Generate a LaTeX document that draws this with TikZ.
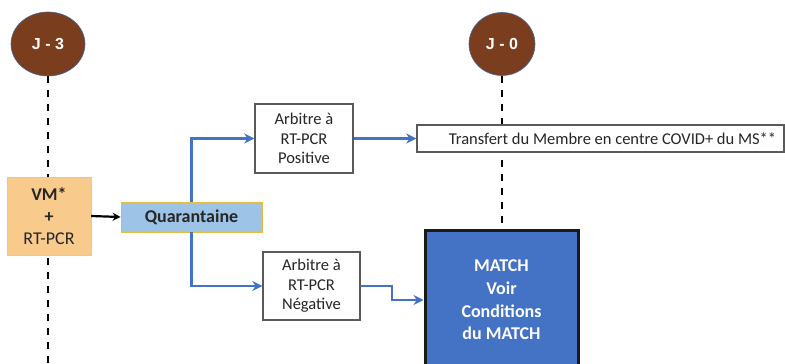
\documentclass[tikz,border=0pt]{standalone}
\usepackage{fontspec}
\setmainfont{Carlito}
\newfontfamily\dayfont{Liberation Sans}
\usetikzlibrary{calc}
\usetikzlibrary{arrows.meta}
\usetikzlibrary{shapes.geometric}
\definecolor{daybrown}{RGB}{122,62,30}
\definecolor{dayedge}{RGB}{70,100,150}
\definecolor{vmfill}{RGB}{248,203,140}
\definecolor{quarfill}{RGB}{157,195,230}
\definecolor{quaredge}{RGB}{230,190,60}
\definecolor{matchblue}{RGB}{68,114,196}
\definecolor{boxgray}{RGB}{90,90,90}
\definecolor{txtgray}{RGB}{38,38,38}
\tikzstyle{daycircle}=[ellipse,fill=daybrown,draw=dayedge,line width=0.6pt,text=white,font=\dayfont\bfseries\fontsize{16}{19}\selectfont,inner sep=0pt]
\tikzstyle{timeline}=[line width=2pt,dash pattern=on 7pt off 7pt]
\tikzstyle{arbbox}=[draw=boxgray,fill=white,line width=1.4pt,align=center,text=txtgray,font=\fontsize{16.5}{19.5}\selectfont,inner sep=0pt]
\tikzstyle{bluearrow}=[draw=matchblue,line width=2.8pt,-{Stealth[length=10pt,width=10pt]}]
\begin{document}
\begin{tikzpicture}[x=1pt,y=-1pt]
\useasboundingbox (0,0) rectangle (785,364);
\clip (0,0) rectangle (785,364);
% days
\node[daycircle,minimum width=74pt,minimum height=64pt] (j3) at (48,44) {J - 3};
\node[daycircle,minimum width=66pt,minimum height=63pt] (j0) at (502,44) {J - 0};
\coordinate (j3end) at (48,364);
\coordinate (j0end) at (502,230);
\draw[timeline] (j3.south) -- (j3end);
\draw[timeline] (j0.south) -- (j0end);
% boxes
\node[fill=vmfill,draw=vmfill!90!orange,align=center,text=txtgray,minimum width=84pt,minimum height=78pt,inner sep=0pt,font=\fontsize{18}{22}\selectfont] (vm) at (49,216) {\textbf{VM*}\\\textbf{+}\\RT-PCR};
\node[fill=quarfill,draw=quaredge,line width=0.8pt,text=txtgray,minimum width=141pt,minimum height=30pt,inner sep=0pt,font=\bfseries\fontsize{18}{22}\selectfont] (quar) at (191.5,217) {Quarantaine};
\node[arbbox,minimum width=98pt,minimum height=69pt] (pos) at (304,138.5) {Arbitre à\\RT-PCR\\Positive};
\node[arbbox,minimum width=97pt,minimum height=68pt] (neg) at (311.5,286) {Arbitre à\\RT-PCR\\Négative};
\node[arbbox,minimum width=367pt,minimum height=27pt] (trans) at (600.5,138.5) {\hspace*{24pt}Transfert du Membre en centre COVID+ du MS**};
\node[fill=matchblue,draw=black!90,line width=3pt,align=center,text=white,minimum width=153pt,minimum height=140pt,inner sep=0pt,font=\bfseries\fontsize{18}{22.7}\selectfont] (match) at (501.5,300) {MATCH\\Voir\\Conditions\\du MATCH};
% arrows
\draw[line width=2.2pt,-{Stealth[length=8pt,width=8pt]}] (vm.east) -- (quar.west);
\draw[bluearrow] (quar.north) |- (pos.west);
\draw[bluearrow] (quar.south) |- (neg.west);
\draw[bluearrow] (pos.east) -- (trans.west);
\draw[bluearrow,line width=2.2pt] (neg.east) -| ($(neg.east)!0.5!(match.west)$) |- (match.west);
\end{tikzpicture}
\end{document}
